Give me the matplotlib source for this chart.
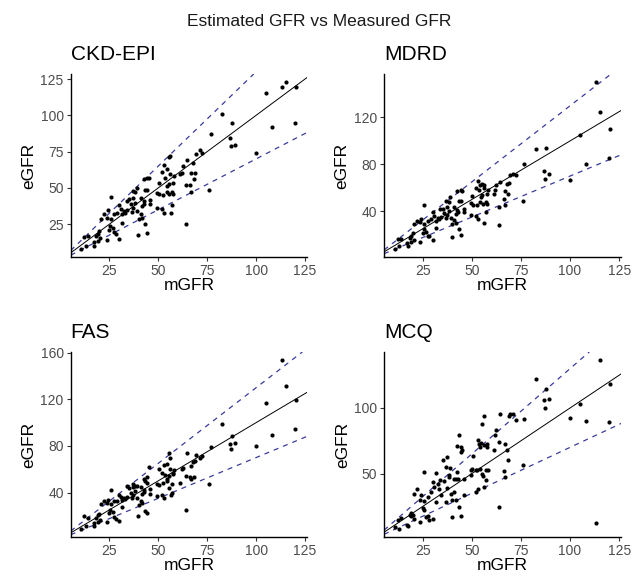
import numpy as np
import matplotlib
matplotlib.use('Agg')
import matplotlib.pyplot as plt

plt.rcParams['font.family'] = ['Liberation Sans', 'DejaVu Sans']

# measured GFR, shared by all four panels
mgfr = [10.8, 12.3, 12.9, 14.1, 17.1, 17.4, 18.3, 19.1, 19.1, 20.0,
        20.5, 20.8, 22.1, 23.8, 23.8, 24.2, 25.0, 25.5, 25.8, 25.8,
        26.7, 27.5, 27.5, 28.4, 29.2, 30.0, 30.0, 30.9, 31.7, 31.7,
        32.6, 33.1, 33.9, 34.2, 35.1, 35.9, 36.8, 36.9, 37.3, 37.3,
        38.4, 38.4, 39.0, 39.3, 39.8, 40.1, 41.0, 41.0, 41.8, 41.8,
        42.6, 42.6, 42.8, 43.5, 43.5, 44.3, 44.3, 44.3, 45.2, 46.0,
        46.0, 49.4, 49.4, 50.2, 50.5, 51.9, 52.1, 52.7, 53.1, 53.2,
        53.6, 54.4, 54.4, 54.7, 55.3, 55.3, 55.6, 56.1, 56.1, 56.4,
        57.0, 57.0, 57.8, 57.8, 58.1, 61.1, 62.0, 62.5, 64.0, 64.0,
        64.5, 66.5, 66.7, 67.0, 67.9, 68.2, 68.7, 69.5, 71.2, 72.6,
        75.8, 76.8, 82.5, 86.8, 87.1, 87.5, 89.4, 100.1, 105.3, 107.9,
        113.2, 115.3, 120.0, 120.5]

egfr_ckd = [8.2, 16.1, 10.1, 17.0, 13.0, 10.1, 17.0, 18.6, 13.5, 20.4,
            15.3, 28.4, 31.9, 29.6, 14.0, 34.7, 20.9, 23.9, 43.9, 28.4,
            22.2, 31.9, 19.5, 18.1, 32.6, 38.3, 14.7, 35.3, 31.9, 26.1,
            34.4, 33.0, 41.1, 34.7, 42.2, 38.8, 33.7, 48.2, 42.9, 36.5,
            47.3, 39.9, 50.3, 34.2, 17.4, 28.4, 43.4, 31.9, 37.6, 29.6,
            56.0, 41.1, 39.0, 48.4, 25.0, 57.2, 48.4, 19.3, 57.2, 41.6,
            38.8, 46.8, 36.0, 53.3, 45.7, 35.3, 60.8, 45.0, 65.7, 32.6,
            57.2, 62.9, 47.5, 51.6, 71.0, 53.0, 45.7, 72.1, 59.5, 32.6,
            47.5, 38.3, 53.7, 45.7, 58.5, 59.5, 60.6, 65.2, 51.9, 25.0,
            69.4, 51.9, 47.5, 60.2, 67.1, 56.0, 60.2, 73.3, 76.0, 74.4,
            48.4, 87.0, 100.9, 84.1, 78.6, 94.7, 79.7, 74.4, 115.1, 92.1,
            119.3, 122.7, 94.7, 119.3]

egfr_mdrd = [8.0, 16.5, 10.2, 16.5, 12.5, 10.5, 17.5, 19.0, 14.0, 21.0,
             15.0, 29.0, 32.0, 30.5, 14.0, 33.0, 21.0, 24.5, 45.5, 29.0,
             22.0, 31.5, 19.0, 19.0, 33.0, 39.0, 15.0, 35.5, 32.0, 26.0,
             34.5, 33.5, 41.5, 35.0, 42.0, 38.5, 34.0, 49.0, 43.5, 37.0,
             48.0, 40.0, 52.0, 34.5, 18.0, 29.0, 44.0, 32.5, 38.0, 30.0,
             57.5, 41.0, 39.5, 48.5, 24.5, 58.0, 49.0, 19.5, 57.0, 42.0,
             39.0, 47.0, 37.0, 53.0, 45.5, 35.5, 60.0, 45.5, 66.0, 33.0,
             58.0, 62.0, 48.0, 52.0, 63.0, 54.0, 46.0, 62.0, 60.0, 30.0,
             48.0, 39.0, 55.0, 46.0, 58.0, 55.0, 58.0, 62.0, 44.0, 28.0,
             65.0, 50.0, 45.0, 57.0, 63.0, 55.0, 64.0, 71.0, 72.0, 71.0,
             48.7, 80.0, 92.7, 74.4, 67.9, 93.8, 71.5, 66.5, 105.0, 80.6,
             150.0, 124.8, 85.4, 110.0]

egfr_fas = [9.0, 19.5, 11.0, 18.0, 13.5, 11.0, 18.5, 20.5, 15.0, 21.5,
            16.5, 30.0, 33.0, 31.0, 15.0, 33.5, 22.0, 25.0, 42.5, 30.5,
            23.0, 32.5, 19.0, 17.5, 33.0, 38.0, 15.5, 36.5, 33.5, 27.5,
            35.5, 34.0, 46.0, 36.0, 44.0, 40.0, 35.0, 47.0, 45.0, 38.0,
            45.5, 41.0, 46.0, 35.5, 20.0, 29.5, 44.5, 33.0, 38.5, 31.0,
            52.0, 42.0, 40.5, 50.0, 24.0, 53.0, 48.5, 22.0, 62.0, 43.0,
            38.5, 47.5, 37.0, 60.0, 46.5, 38.0, 57.0, 48.0, 64.0, 35.0,
            55.0, 64.5, 50.0, 52.0, 74.0, 54.0, 44.0, 70.0, 60.0, 38.0,
            47.0, 40.0, 55.5, 57.0, 59.0, 48.0, 60.0, 61.0, 54.0, 25.0,
            74.0, 53.0, 52.0, 63.0, 66.0, 53.0, 67.0, 72.0, 70.0, 71.0,
            47.7, 78.9, 98.7, 81.7, 77.7, 88.2, 82.6, 79.7, 117.1, 89.0,
            153.5, 131.6, 94.5, 119.4]

egfr_mcq = [9.4, 15.0, 8.1, 16.0, 10.7, 10.0, 18.3, 17.5, 20.0, 18.3,
            15.7, 34.8, 38.6, 29.7, 13.5, 33.5, 24.1, 22.1, 51.3, 29.0,
            17.0, 32.2, 18.0, 15.0, 36.0, 43.6, 15.5, 39.8, 50.5, 28.0,
            42.4, 38.0, 44.9, 33.5, 60.2, 44.0, 28.4, 55.1, 62.7, 39.3,
            47.5, 48.7, 54.0, 34.8, 17.0, 30.2, 46.2, 36.0, 46.2, 30.0,
            70.8, 51.3, 46.0, 79.2, 24.6, 70.3, 66.5, 17.5, 68.0, 46.0,
            33.5, 48.7, 52.5, 53.8, 63.2, 36.0, 52.5, 52.5, 75.4, 38.6,
            72.8, 70.3, 53.8, 73.6, 88.1, 50.0, 48.0, 93.7, 71.6, 39.8,
            52.5, 44.9, 70.3, 72.8, 52.5, 68.3, 79.2, 83.0, 74.1, 24.6,
            95.2, 51.8, 47.5, 72.8, 67.8, 60.0, 93.9, 95.7, 95.7, 91.0,
            56.3, 91.4, 122.3, 105.8, 100.3, 114.7, 107.0, 92.6, 103.3, 90.1,
            12.7, 136.3, 89.3, 118.5]

titles = ['CKD-EPI', 'MDRD', 'FAS', 'MCQ']
series = [egfr_ckd, egfr_mdrd, egfr_fas, egfr_mcq]
yticks = [[25, 50, 75, 100, 125], [40, 80, 120], [40, 80, 120, 160], [50, 100]]
xticks = [25, 50, 75, 100, 125]

fig = plt.figure(figsize=(6.39, 5.82), dpi=100)
fig.text(0.5, 0.963, 'Estimated GFR vs Measured GFR', ha='center', va='center',
         fontsize=12.5, color='#1a1a1a')

boxes = [[0.1106, 0.5584, 0.3698, 0.3144],
         [0.601, 0.5584, 0.371, 0.3144],
         [0.1106, 0.0773, 0.3698, 0.318],
         [0.601, 0.0773, 0.371, 0.318]]

dash_col = '#3a3a9e'
for box, title, y, yt in zip(boxes, titles, series, yticks):
    ax = fig.add_axes(box)
    ax.scatter(mgfr, y, s=9, color='black', linewidths=0, zorder=3)
    ax.margins(0.05)
    xl, yl = ax.get_xlim(), ax.get_ylim()
    ax.axline((0, 0), slope=1, color='black', lw=0.7)
    ax.axline((0, 0), slope=1.3, color=dash_col, lw=0.9, ls=(0, (4, 4)))
    ax.axline((0, 0), slope=0.7, color=dash_col, lw=0.9, ls=(0, (4, 4)))
    ax.set_xlim(xl)
    ax.set_ylim(yl)
    ax.set_xticks(xticks)
    ax.set_yticks(yt)
    for s in ['top', 'right']:
        ax.spines[s].set_visible(False)
    for s in ['left', 'bottom']:
        ax.spines[s].set_linewidth(1.0)
    ax.tick_params(length=3, width=0.8, color='#333333', labelsize=10,
                   labelcolor='#4d4d4d', pad=2)
    ax.set_xlabel('mGFR', fontsize=12.5, color='black', labelpad=0)
    ax.set_ylabel('eGFR', fontsize=12.5, color='black', labelpad=3)
    ax.set_title(title, loc='left', fontsize=15, pad=10)

fig.savefig('out.png', dpi=100)
